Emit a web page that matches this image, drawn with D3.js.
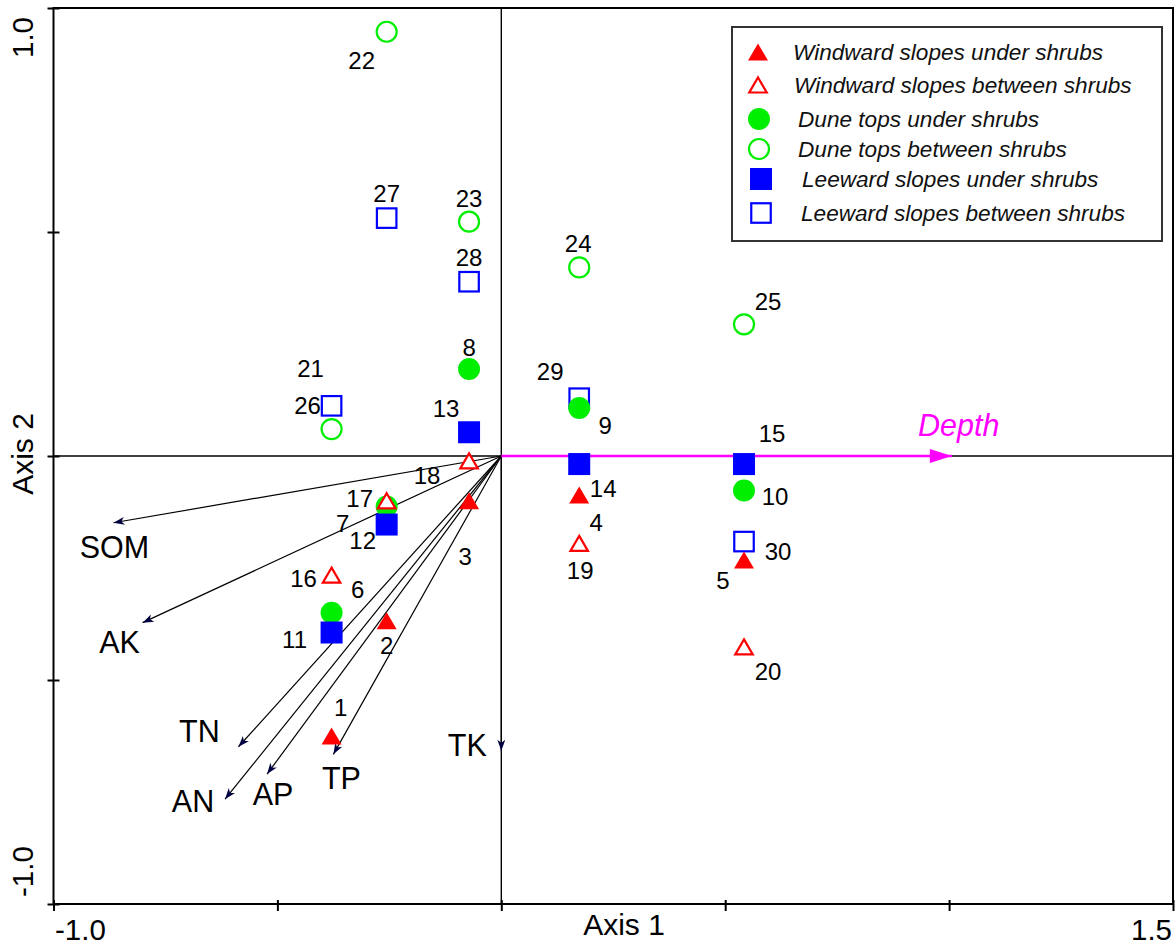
<!DOCTYPE html>
<html>
<head>
<meta charset="utf-8">
<script src="https://cdn.jsdelivr.net/npm/d3@7"></script>
<style>
  html, body { margin: 0; padding: 0; background: #fff; }
  svg { display: block; font-family: "Liberation Sans", Arial, sans-serif; }
</style>
</head>
<body>
<svg id="chart" width="1175" height="947"></svg>
<script>
// ---------------- data ----------------
const groupNames = [
  "Windward slopes under shrubs",
  "Windward slopes between shrubs",
  "Dune tops under shrubs",
  "Dune tops between shrubs",
  "Leeward slopes under shrubs",
  "Leeward slopes between shrubs"
];
// sample numbers and their group (index into groupNames)
const sampleIds   = [1,2,3,4,5, 6,7,8,9,10, 11,12,13,14,15, 16,17,18,19,20, 21,22,23,24,25, 26,27,28,29,30];
const sampleGroup = [0,0,0,0,0, 2,2,2,2,2, 4,4,4,4,4, 1,1,1,1,1, 3,3,3,3,3, 5,5,5,5,5];
const axis1Scores = [-0.379,-0.256,-0.072,0.174,0.542, -0.379,-0.256,-0.072,0.174,0.542,
                     -0.379,-0.256,-0.072,0.174,0.542, -0.379,-0.256,-0.072,0.174,0.542,
                     -0.379,-0.256,-0.072,0.174,0.542, -0.379,-0.256,-0.072,0.174,0.542];
const axis2Scores = [-0.625,-0.368,-0.100,-0.087,-0.232, -0.350,-0.113,0.194,0.107,-0.077,
                     -0.394,-0.153,0.053,-0.018,-0.018, -0.266,-0.100,-0.011,-0.195,-0.426,
                     0.060,0.947,0.523,0.421,0.294, 0.112,0.531,0.389,0.129,-0.191];

const envNames = ["SOM","AK","TN","AN","AP","TP","TK","Depth"];
const envAxis1 = [-0.866,-0.801,-0.587,-0.617,-0.523,-0.375,0.000,1.006];
const envAxis2 = [-0.149,-0.372,-0.649,-0.766,-0.710,-0.666,-0.658,0.000];

const xTicks = [-1.0,-0.5,0,0.5,1.0,1.5];
const yTicks = [-1.0,-0.5,0,0.5,1.0];
const xTickLabels = ["-1.0","1.5"];
const yTickLabels = ["-1.0","1.0"];
const xTitle = "Axis 1", yTitle = "Axis 2";

// ---------------- layout / style (not data) ----------------
const groupShape = ["triangle","triangle","circle","circle","square","square"];
const groupColor = ["#ff0000","#ff0000","#00ee00","#00ee00","#0000ff","#0000ff"];
const groupFilled = [true,false,true,false,true,false];
const drawOrder = [5,3,2,4,0,1]; // group drawing order (overlaps)

// label offsets (px) relative to sample points, by sample index
const sampleLabelOffset = [
  [9,-29],[0,25],[-4,56],[17,28],[-21,21],
  [26,-23],[-44,17],[0,-22],[26,17],[31,6],
  [-37,7],[-24,16],[-23,-24],[24,24],[28,-31],
  [-28,3],[-27,-2],[-42,15],[1,27],[24,25],
  [-21,-61],[-25,29],[0,-23],[-1,-24],[24,-23],
  [-24,0],[0,-25],[0,-24],[-29,-27],[34,10]
];
const envLabelOffset = [[1,24],[-23,19],[-39,-16],[-32,2],[6,20],[8,24],[-34,-6],[7,-31]];

const svg = d3.select("#chart");
const x = d3.scaleLinear().domain([-1, 1.5]).range([53.5, 1173]);
const y = d3.scaleLinear().domain([-1, 1]).range([904, 8]);

// defs: arrowheads
const defs = svg.append("defs");
defs.append("marker").attr("id","arrBlack")
  .attr("markerUnits","userSpaceOnUse").attr("viewBox","-12 -6 14 12")
  .attr("markerWidth",14).attr("markerHeight",12).attr("refX",0).attr("refY",0)
  .attr("orient","auto")
  .append("path").attr("d","M0,0 L-11,-4 L-8,0 L-11,4 Z").attr("fill","#000040");
defs.append("marker").attr("id","arrMag")
  .attr("markerUnits","userSpaceOnUse").attr("viewBox","-24 -8 26 16")
  .attr("markerWidth",26).attr("markerHeight",16).attr("refX",0).attr("refY",0)
  .attr("orient","auto")
  .append("path").attr("d","M0,0 L-22,-7 L-22,7 Z").attr("fill","#ff00ff");

// zero lines
svg.append("line").attr("x1", x(-1)).attr("x2", x(1.5)).attr("y1", y(0)).attr("y2", y(0))
  .attr("stroke","#000").attr("stroke-width",1.4);
svg.append("line").attr("x1", x(0)).attr("x2", x(0)).attr("y1", y(1)).attr("y2", y(-1))
  .attr("stroke","#000").attr("stroke-width",1.4);

// frame
svg.append("rect").attr("x", x(-1)).attr("y", y(1))
  .attr("width", x(1.5)-x(-1)).attr("height", y(-1)-y(1))
  .attr("fill","none").attr("stroke","#000").attr("stroke-width",2);

// axes (ticks crossing frame)
const xAxis = svg.append("g").attr("transform",`translate(0,${y(-1)})`)
  .call(d3.axisBottom(x).tickValues(xTicks).tickFormat("").tickSizeOuter(0).tickSizeInner(7));
xAxis.select(".domain").remove();
xAxis.selectAll(".tick line").attr("y1",-4).attr("y2",7).attr("stroke-width",2);
const yAxis = svg.append("g").attr("transform",`translate(${x(-1)},0)`)
  .call(d3.axisLeft(y).tickValues(yTicks).tickFormat("").tickSizeOuter(0).tickSizeInner(6));
yAxis.select(".domain").remove();
yAxis.selectAll(".tick line").attr("x1",6).attr("x2",-6).attr("stroke-width",2);

// tick labels
svg.append("text").attr("x", x(-1)+1.5).attr("y", 940).attr("text-anchor","start")
  .attr("font-size",29.5).text(xTickLabels[0]);
svg.append("text").attr("x", x(1.5)-1).attr("y", 940).attr("text-anchor","end")
  .attr("font-size",29.5).text(xTickLabels[1]);
svg.append("text").attr("transform",`translate(33,${y(-1)-7}) rotate(-90)`).attr("text-anchor","start")
  .attr("font-size",29.5).text(yTickLabels[0]);
svg.append("text").attr("transform",`translate(33,${y(1)+9}) rotate(-90)`).attr("text-anchor","end")
  .attr("font-size",29.5).text(yTickLabels[1]);

// axis titles
svg.append("text").attr("x",624).attr("y",935).attr("text-anchor","middle")
  .attr("font-size",30).text(xTitle);
svg.append("text").attr("transform",`translate(33,454) rotate(-90)`).attr("text-anchor","middle")
  .attr("font-size",30).text(yTitle);

// environmental arrows
const env = envNames.map((n,i)=>({name:n, x:envAxis1[i], y:envAxis2[i], off:envLabelOffset[i]}));
svg.append("g").selectAll("line").data(env).join("line")
  .attr("x1", x(0)).attr("y1", y(0))
  .attr("x2", d=>x(d.x)).attr("y2", d=>y(d.y))
  .attr("stroke", d=>d.name==="Depth" ? "#ff00ff" : "#000")
  .attr("stroke-width", d=>d.name==="Depth" ? 2.5 : 1.2)
  .attr("marker-end", d=>d.name==="Depth" ? "url(#arrMag)" : "url(#arrBlack)");
svg.append("g").selectAll("text").data(env).join("text")
  .attr("x", d=>x(d.x)+d.off[0]).attr("y", d=>y(d.y)+d.off[1])
  .attr("text-anchor","middle").attr("dominant-baseline","central")
  .attr("font-size",30.5)
  .attr("font-style", d=>d.name==="Depth" ? "italic" : "normal")
  .attr("fill", d=>d.name==="Depth" ? "#ff00ff" : "#000")
  .text(d=>d.name);

// symbol drawing helper
function drawSymbol(sel, g) {
  const shape = groupShape[g], col = groupColor[g], filled = groupFilled[g];
  let el;
  if (shape === "circle") {
    el = sel.append("circle").attr("r", filled ? 11 : 10);
  } else if (shape === "square") {
    const s = filled ? 22 : 19.5;
    el = sel.append("rect").attr("x",-s/2).attr("y",-s/2).attr("width",s).attr("height",s);
  } else {
    const w = filled ? 20 : 17.5, h = filled ? 17 : 15;
    el = sel.append("path").attr("d",`M0,${-h/2} L${w/2},${h/2} L${-w/2},${h/2} Z`);
  }
  if (filled) el.attr("fill", col).attr("stroke","none");
  else el.attr("fill","#fff").attr("stroke", col).attr("stroke-width",2.2);
}

// samples
const samples = sampleIds.map((id,i)=>({id, g:sampleGroup[i], x:axis1Scores[i], y:axis2Scores[i], off:sampleLabelOffset[i]}));
const ptLayer = svg.append("g");
drawOrder.forEach(g=>{
  samples.filter(d=>d.g===g).forEach(d=>{
    const s = ptLayer.append("g").attr("transform",`translate(${x(d.x)},${y(d.y)})`);
    drawSymbol(s, g);
  });
});
svg.append("g").selectAll("text").data(samples).join("text")
  .attr("x", d=>x(d.x)+d.off[0]).attr("y", d=>y(d.y)+d.off[1])
  .attr("text-anchor","middle").attr("dominant-baseline","central")
  .attr("font-size",24).text(d=>d.id);

// legend
const leg = svg.append("g");
leg.append("rect").attr("x",732).attr("y",27).attr("width",430).attr("height",214)
  .attr("fill","#fff").attr("stroke","#333").attr("stroke-width",2);
const legRowY = [52,85,119,149,179,213];
const legTextX = [793,794,798,798,802,801];
const legMarkX = [758,758,759,759,761,761];
groupNames.forEach((name,i)=>{
  const s = leg.append("g").attr("transform",`translate(${legMarkX[i]},${legRowY[i]})`);
  drawSymbol(s, i);
  leg.append("text").attr("x",legTextX[i]).attr("y",legRowY[i]+8)
    .attr("font-size",22.6).attr("font-style","italic").attr("fill","#111").text(name);
});
</script>
</body>
</html>
